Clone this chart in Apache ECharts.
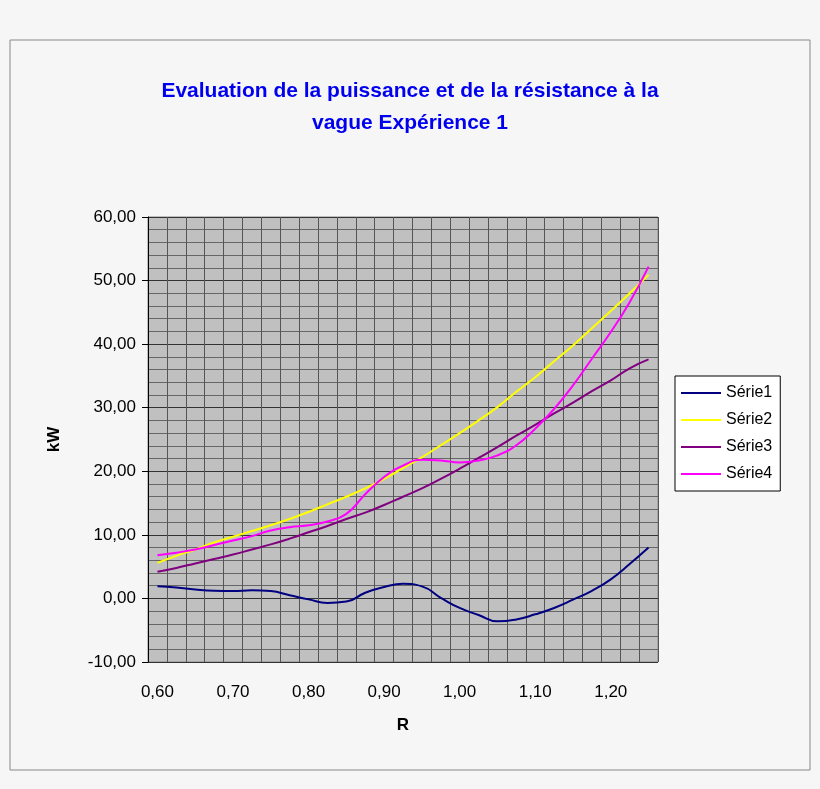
<!DOCTYPE html>
<html>
<head>
<meta charset="utf-8">
<script src="https://cdn.jsdelivr.net/npm/echarts@6/dist/echarts.min.js"></script>
<style>html,body{margin:0;padding:0;background:#f6f6f6;}#c{width:820px;height:789px;}</style>
</head>
<body>
<div id="c"></div>
<script>
var chart = echarts.init(document.getElementById('c'));

var categories = ['0,60','0,625','0,65','0,675','0,70','0,725','0,75','0,775','0,80','0,825','0,85','0,875','0,90','0,925','0,95','0,975','1,00','1,025','1,05','1,075','1,10','1,125','1,15','1,175','1,20','1,225','1,25'];
var serie1 = [1.9,1.7,1.4,1.2,1.15,1.3,1.15,0.5,-0.15,-0.7,-0.5,0.9,1.8,2.3,1.9,0.1,-1.5,-2.6,-3.6,-3.3,-2.5,-1.5,-0.2,1.2,3.0,5.4,8.0];
var serie2 = [5.6,6.7,7.7,8.8,9.7,10.6,11.5,12.5,13.6,14.8,16.0,17.3,18.8,20.5,22.2,24.1,26.0,28.0,30.1,32.5,34.8,37.3,39.8,42.5,45.2,48.0,50.9];
var serie3 = [4.2,4.8,5.5,6.2,6.9,7.7,8.5,9.4,10.4,11.4,12.5,13.5,14.7,16.0,17.3,18.8,20.4,22.1,23.8,25.6,27.3,29.1,30.8,32.6,34.3,36.2,37.6];
var serie4 = [6.8,7.2,7.7,8.4,9.1,9.8,10.7,11.2,11.5,12.1,13.3,16.4,19.1,20.9,21.8,21.7,21.4,21.7,22.5,24.1,26.7,29.8,33.5,37.7,41.9,46.6,52.2];

function line(name, data, color) {
  return {name: name, type: 'line', data: data, smooth: true, symbol: 'none',
    lineStyle: {color: color, width: 2}, itemStyle: {color: color}};
}

chart.setOption({
  backgroundColor: '#f6f6f6',
  animation: false,
  graphic: [{type: 'rect', shape: {x: 10, y: 40, width: 800, height: 730},
    style: {fill: 'none', stroke: '#888', lineWidth: 1}, z: -1}],
  title: {
    text: 'Evaluation de la puissance et de la résistance à la\nvague Expérience 1',
    left: 'center', top: 70,
    textStyle: {color: '#0000ee', fontSize: 21, fontWeight: 'bold', fontFamily: 'Liberation Sans', lineHeight: 32}
  },
  grid: {left: 148, top: 217, right: 162, bottom: 127, show: true, backgroundColor: '#c0c0c0', borderColor: '#888', borderWidth: 1},
  legend: {
    orient: 'vertical', left: 675, top: 376, itemWidth: 40, itemHeight: 2, itemGap: 11,
    backgroundColor: '#fff', borderColor: '#000', borderWidth: 1, padding: [9, 8, 9, 6],
    icon: 'rect', textStyle: {fontSize: 16, fontFamily: 'Liberation Sans', color: '#000'},
    data: ['Série1','Série2','Série3','Série4']
  },
  xAxis: {
    type: 'category', data: categories, boundaryGap: true,
    name: 'R', nameLocation: 'middle', nameGap: 55,
    nameTextStyle: {fontSize: 17, fontWeight: 'bold', fontFamily: 'Liberation Sans', color: '#000'},
    axisLine: {show: false},
    axisTick: {show: false},
    axisLabel: {interval: 3, color: '#000', fontSize: 17, fontFamily: 'Liberation Sans', margin: 22},
    splitLine: {show: true, interval: 0, lineStyle: {color: '#555', width: 1}}
  },
  yAxis: {
    type: 'value', min: -10, max: 60, interval: 10,
    name: 'kW', nameLocation: 'middle', nameGap: 85,
    nameTextStyle: {fontSize: 17, fontWeight: 'bold', fontFamily: 'Liberation Sans', color: '#000'},
    axisLine: {show: true, lineStyle: {color: '#000'}},
    axisTick: {show: true, inside: false, length: 6, lineStyle: {color: '#000'}},
    axisLabel: {color: '#000', fontSize: 17, fontFamily: 'Liberation Sans', margin: 12,
      formatter: function (v) { return v.toFixed(2).replace('.', ','); }},
    splitLine: {show: true, lineStyle: {color: '#333', width: 1}},
    minorTick: {show: false, splitNumber: 5},
    minorSplitLine: {show: true, lineStyle: {color: '#666', width: 1}}
  },
  series: [
    line('Série1', serie1, '#000080'),
    line('Série2', serie2, '#ffff00'),
    line('Série3', serie3, '#800080'),
    line('Série4', serie4, '#ff00ff')
  ]
});
</script>
</body>
</html>
